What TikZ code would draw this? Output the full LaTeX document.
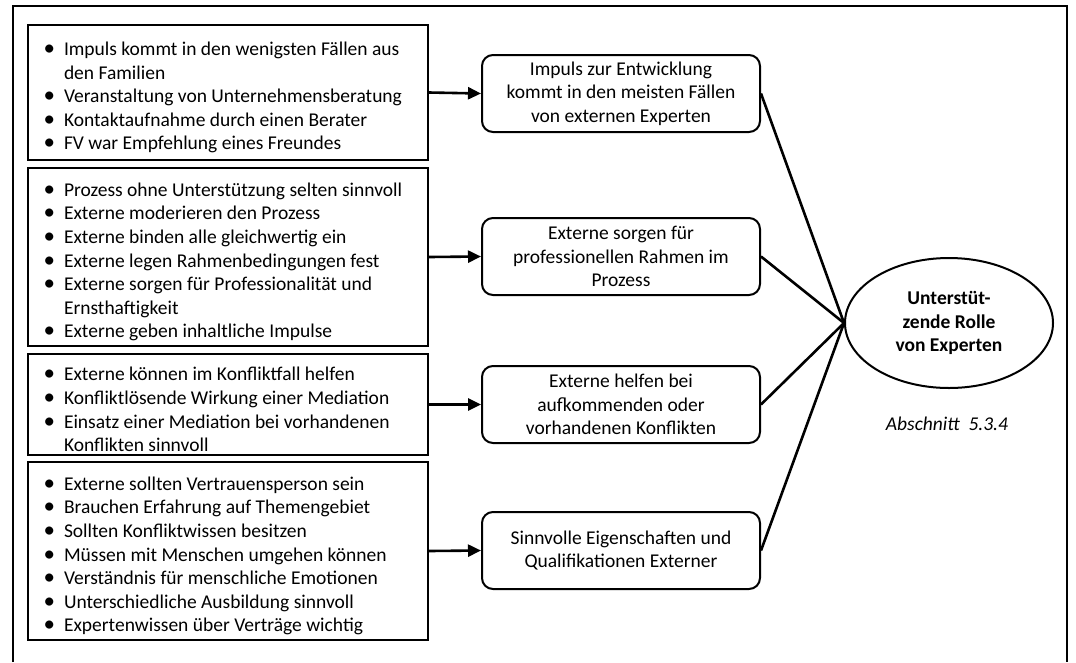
\documentclass[tikz,border=0pt]{standalone}
\usepackage{fontspec}
\setmainfont{Carlito}
\usepackage{enumitem}
\usetikzlibrary{shapes.geometric,arrows.meta}
\setlist[itemize]{label={\fontsize{23}{23}\selectfont\textbullet}, leftmargin=36pt, labelsep=9pt, itemsep=0pt, parsep=0pt, topsep=0pt, partopsep=0pt}
\begin{document}
\begin{tikzpicture}[x=1pt,y=-1pt,
  txt/.style={font=\fontsize{19.5}{23.6}\selectfont},
  listbox/.style={txt, draw, line width=2pt, anchor=north west, inner xsep=0pt, inner ysep=0pt,
    text width=400pt, minimum width=400pt, align=flush left},
  roundbox/.style={txt, draw, line width=2pt, rounded corners=11pt, anchor=north west,
    minimum width=278pt, minimum height=77pt, align=center, inner sep=2pt},
  arr/.style={line width=2.6pt, -{Triangle[length=13pt,width=12pt]}},
  link/.style={line width=2.6pt}]
  \useasboundingbox (0,0) rectangle (1076,662);

  % outer frame, open at the bottom
  \draw[line width=2pt] (13,662) -- (13,6) -- (1067,6) -- (1067,662);

  % left-hand lists
  \node[listbox, minimum height=135pt] (l1) at (27,24) {%
    \begin{itemize}
    \item Impuls kommt in den wenigsten Fällen aus den Familien
    \item Veranstaltung von Unternehmensberatung
    \item Kontaktaufnahme durch einen Berater
    \item FV war Empfehlung eines Freundes
    \end{itemize}};
  \node[listbox, minimum height=178pt] (l2) at (27,167) {%
    \begin{itemize}
    \item Prozess ohne Unterstützung selten sinnvoll
    \item Externe moderieren den Prozess
    \item Externe binden alle gleichwertig ein
    \item Externe legen Rahmenbedingungen fest
    \item Externe sorgen für Professionalität und Ernsthaftigkeit
    \item Externe geben inhaltliche Impulse
    \end{itemize}};
  \node[listbox, minimum height=101pt] (l3) at (27,353) {%
    \begin{itemize}
    \item Externe können im Konfliktfall helfen
    \item Konfliktlösende Wirkung einer Mediation
    \item Einsatz einer Mediation bei vorhandenen Konflikten sinnvoll
    \end{itemize}};
  \node[listbox, minimum height=178pt] (l4) at (27,461) {%
    \begin{itemize}
    \item Externe sollten Vertrauensperson sein
    \item Brauchen Erfahrung auf Themengebiet
    \item Sollten Konfliktwissen besitzen
    \item Müssen mit Menschen umgehen können
    \item Verständnis für menschliche Emotionen
    \item Unterschiedliche Ausbildung sinnvoll
    \item Expertenwissen über Verträge wichtig
    \end{itemize}};

  % summaries
  \node[roundbox] (r1) at (481,54) {Impuls zur Entwicklung\\kommt in den meisten Fällen\\von externen Experten};
  \node[roundbox] (r2) at (481,217) {Externe sorgen für\\professionellen Rahmen im\\Prozess};
  \node[roundbox] (r3) at (481,365) {Externe helfen bei\\aufkommenden oder\\vorhandenen Konflikten};
  \node[roundbox] (r4) at (481,511) {Sinnvolle Eigenschaften und\\Qualifikationen Externer};

  % central topic
  \node[ellipse, draw, line width=2pt, minimum width=208pt, minimum height=130pt, inner sep=0pt,
    txt, font=\fontsize{19.5}{23.6}\selectfont\bfseries, align=center] (c) at (949,323)
    {Unterstüt-\\zende Rolle\\von Experten};
  \node[txt, font=\fontsize{19.5}{23.6}\selectfont\itshape] (sec) at (947,424) {Abschnitt\ \ 5.3.4};

  % connectors
  \draw[arr] (l1.east) -- (r1.west);
  \draw[arr] (l2.east) -- (r2.west);
  \draw[arr] (l3.east) -- (r3.west);
  \draw[arr] (l4.east) -- (r4.west);
  \foreach \r in {r1,r2,r3,r4} \draw[link] (\r.east) -- (c.west);
\end{tikzpicture}
\end{document}
